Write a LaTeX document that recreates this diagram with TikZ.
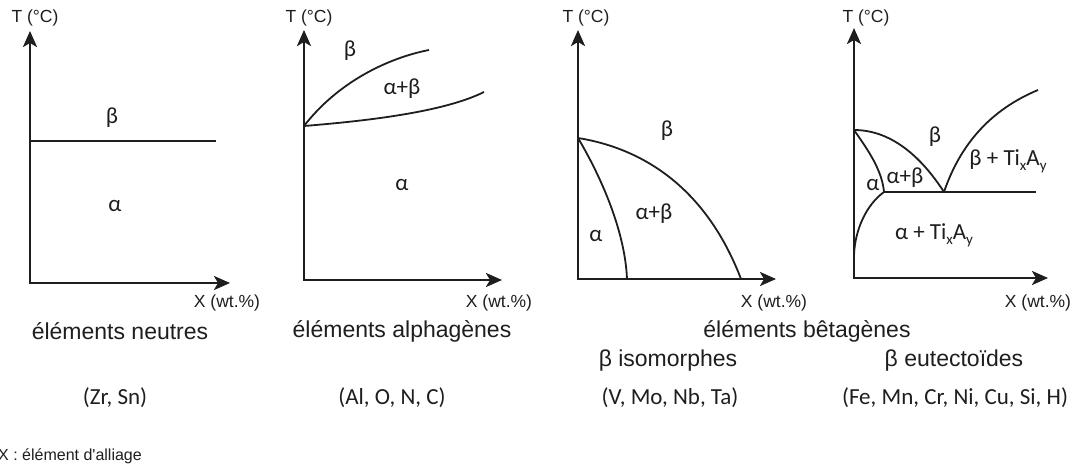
\documentclass[tikz,border=0pt]{standalone}
\usepackage{fontspec}
\setmainfont{Liberation Sans}
\newfontfamily\carl{Carlito}
\usetikzlibrary{arrows.meta}
\newcommand\subsc[1]{\raisebox{-0.45ex}{\fontsize{15}{15}\selectfont #1}}
\definecolor{ink}{HTML}{1E1E1E}
\tikzset{
  axis/.style={draw=ink, line width=2.6pt, line join=miter, {Stealth[length=16pt,width=14pt,inset=4pt]}-{Stealth[length=16pt,width=14pt,inset=4pt]}},
  curve/.style={draw=ink, line width=1.8pt},
  axlab/.style={inner sep=0pt, text=ink, font=\fontsize{17.5}{20}\selectfont},
  phase/.style={inner sep=0pt, text=ink, font=\carl\fontsize{23}{26}\selectfont},
  title/.style={inner sep=0pt, text=ink, font=\fontsize{23}{27}\selectfont},
  elem/.style={inner sep=0pt, text=ink, font=\carl\fontsize{23}{27}\selectfont},
  note/.style={inner sep=0pt, text=ink, font=\fontsize{16}{18}\selectfont, anchor=west}
}
\begin{document}
\begin{tikzpicture}[x=1pt,y=-1pt]
\useasboundingbox[fill=white] (0,0) rectangle (1089,466);

% ---------- Panel 1 : neutral elements ----------
\coordinate (Y1) at (30,31);
\coordinate (O1) at (30,283);
\coordinate (X1) at (230,283);
\coordinate (L1a) at (30,141);
\coordinate (L1b) at (216,141);
\path[axis] (Y1) -- (O1) -- (X1);
\path[curve] (L1a) -- (L1b);
\node[axlab] (T1) at (35,18) {T (°C)};
\node[axlab] (W1) at (227,303) {X (wt.\%)};
\node[phase] (b1) at (112,118) {β};
\node[phase] (a1) at (115,206) {α};

% ---------- Panel 2 : alpha stabilisers ----------
\coordinate (Y2) at (304,30);
\coordinate (O2) at (304,280);
\coordinate (X2) at (502,280);
\coordinate (P2) at (304,126);
\coordinate (U2) at (429,50);
\coordinate (V2) at (484,92);
\path[axis] (Y2) -- (O2) -- (X2);
\path[curve] (P2) .. controls (338,82) and (388,58) .. (U2);
\path[curve] (P2) .. controls (352,122) and (440,114) .. (V2);
\node[axlab] (T2) at (309,18) {T (°C)};
\node[axlab] (W2) at (499,303) {X (wt.\%)};
\node[phase] (b2) at (350,51) {β};
\node[phase] (ab2) at (402,89) {α+β};
\node[phase] (a2) at (402,185) {α};

% ---------- Panel 3 : beta isomorphous ----------
\coordinate (Y3) at (578,30);
\coordinate (O3) at (578,279);
\coordinate (X3) at (776,279);
\coordinate (Q3) at (578,138);
\coordinate (R3) at (627,279);
\coordinate (S3) at (741,279);
\path[axis] (Y3) -- (O3) -- (X3);
\path[curve] (Q3) .. controls (600,175) and (625,230) .. (R3);
\path[curve] (Q3) .. controls (640,148) and (705,185) .. (S3);
\node[axlab] (T3) at (586,18) {T (°C)};
\node[axlab] (W3) at (774,303) {X (wt.\%)};
\node[phase] (b3) at (667,131) {β};
\node[phase] (ab3) at (654,214) {α+β};
\node[phase] (a3) at (596,236) {α};

% ---------- Panel 4 : beta eutectoid ----------
\coordinate (Y4) at (854,28);
\coordinate (O4) at (854,278);
\coordinate (X4) at (1048,278);
\coordinate (A4) at (854,130);
\coordinate (E4) at (944,192);
\coordinate (B4) at (884,192);
\coordinate (C4) at (1036,192);
\coordinate (F4) at (854,255);
\coordinate (D4) at (1038,90);
\path[axis] (Y4) -- (O4) -- (X4);
\path[curve] (A4) .. controls (890,130) and (920,155) .. (E4);
\path[curve] (A4) .. controls (868,150) and (882,170) .. (B4);
\path[curve] (B4) .. controls (866,205) and (855,230) .. (F4);
\path[curve] (B4) -- (C4);
\path[curve] (E4) .. controls (960,145) and (990,110) .. (D4);
\node[axlab] (T4) at (866,18) {T (°C)};
\node[axlab] (W4) at (1038,303) {X (wt.\%)};
\node[phase] (b4) at (935,137) {β};
\node[phase] (bt4) at (1008,161) {β + Ti\subsc{x}A\subsc{y}};
\node[phase] (ab4) at (905,178) {α+β};
\node[phase] (a4) at (873,185) {α};
\node[phase] (at4) at (934,235) {α + Ti\subsc{x}A\subsc{y}};

% ---------- Captions ----------
\node[title] (c1) at (120,331) {éléments neutres};
\node[title] (c2) at (402,331) {éléments alphagènes};
\node[title] (c3) at (807,331) {éléments bêtagènes};
\node[title] (c3a) at (668,361) {β isomorphes};
\node[title] (c3b) at (954,361) {β eutectoïdes};
\node[elem] (e1) at (115,398) {(Zr, Sn)};
\node[elem] (e2) at (392,398) {(Al, O, N, C)};
\node[elem] (e3) at (670,398) {(V, Mo, Nb, Ta)};
\node[elem] (e4) at (955,398) {(Fe, Mn, Cr, Ni, Cu, Si, H)};
\node[note] (n1) at (-2,456) {X : élément d\textquotesingle alliage};
\end{tikzpicture}
\end{document}
